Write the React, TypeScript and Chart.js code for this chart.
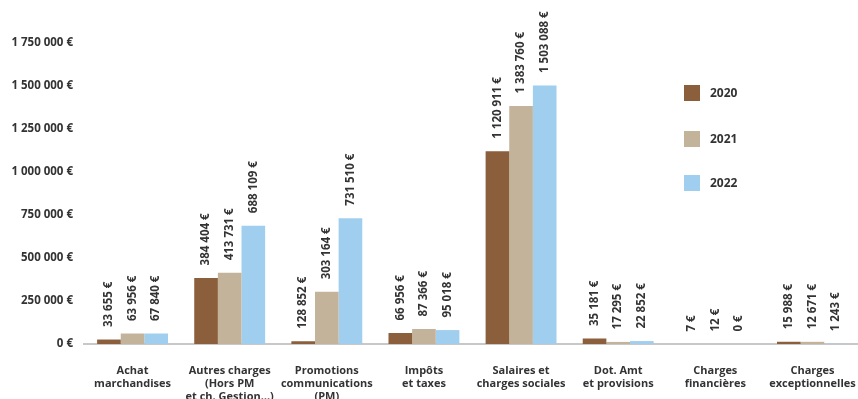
import React, { useEffect, useRef } from "react";
import { Chart, registerables } from "chart.js";

Chart.register(...registerables);

const categories: string[][] = [
  ["Achat", "marchandises"],
  ["Autres charges", "(Hors PM", "et ch. Gestion…)"],
  ["Promotions", "communications", "(PM)"],
  ["Impôts", "et taxes"],
  ["Salaires et", "charges sociales"],
  ["Dot. Amt", "et provisions"],
  ["Charges", "financières"],
  ["Charges", "exceptionnelles"],
];

const seriesNames = ["2020", "2021", "2022"];
const seriesColors = ["#8B5E3C", "#C4B39B", "#A0CEEE"];

// bar heights as drawn in the picture
const values2020 = [26000, 384404, 16000, 64000, 1120911, 32000, 7, 13000];
const values2021 = [61000, 413731, 303164, 87366, 1383760, 12000, 12, 12671];
const values2022 = [61000, 688109, 731510, 81000, 1503088, 17000, 0, 1243];

// data label texts as printed
const labels2020 = ["33 655 €", "384 404 €", "128 852 €", "66 956 €", "1 120 911 €", "35 181 €", "7 €", "15 988 €"];
const labels2021 = ["63 956 €", "413 731 €", "303 164 €", "87 366 €", "1 383 760 €", "17 295 €", "12 €", "12 671 €"];
const labels2022 = ["67 840 €", "688 109 €", "731 510 €", "95 018 €", "1 503 088 €", "22 852 €", "0 €", "1 243 €"];

const yTickValues = [0, 250000, 500000, 750000, 1000000, 1250000, 1500000, 1750000];

const FONT = "'Open Sans', 'DejaVu Sans', sans-serif";
const TEXT = "#333333";

const formatEuro = (v: number) =>
  String(Math.round(v)).replace(/\B(?=(\d{3})+(?!\d))/g, " ") + " €";

const valueLabelPlugin = {
  id: "valueLabels",
  afterDatasetsDraw(chart: any) {
    const ctx = chart.ctx;
    const allLabels = [labels2020, labels2021, labels2022];
    ctx.save();
    ctx.font = `bold 11.5px ${FONT}`;
    ctx.fillStyle = TEXT;
    ctx.textAlign = "left";
    ctx.textBaseline = "middle";
    chart.data.datasets.forEach((_ds: any, di: number) => {
      const meta = chart.getDatasetMeta(di);
      meta.data.forEach((bar: any, i: number) => {
        const txt = allLabels[di][i];
        ctx.save();
        ctx.translate(bar.x, bar.y - 12.5);
        ctx.rotate(-Math.PI / 2);
        ctx.fillText(txt, 0, 0);
        ctx.restore();
      });
    });
    ctx.restore();
  },
};

const legendPlugin = {
  id: "customLegend",
  afterDraw(chart: any) {
    const ctx = chart.ctx;
    const rows = [93, 139, 183];
    ctx.save();
    ctx.font = `bold 12px ${FONT}`;
    ctx.textAlign = "left";
    ctx.textBaseline = "middle";
    chart.data.datasets.forEach((ds: any, i: number) => {
      const cy = rows[i];
      ctx.fillStyle = ds.backgroundColor;
      ctx.fillRect(684, cy - 8, 16, 16);
      ctx.fillStyle = TEXT;
      ctx.fillText(ds.label, 710, cy + 1);
    });
    ctx.restore();
  },
};

export default function App() {
  const ref = useRef<HTMLCanvasElement | null>(null);

  useEffect(() => {
    if (!ref.current) return;
    const chart = new Chart(ref.current, {
      type: "bar",
      data: {
        labels: categories,
        datasets: [
          { label: seriesNames[0], data: values2020, backgroundColor: seriesColors[0] },
          { label: seriesNames[1], data: values2021, backgroundColor: seriesColors[1] },
          { label: seriesNames[2], data: values2022, backgroundColor: seriesColors[2] },
        ],
      },
      options: {
        responsive: false,
        animation: false,
        devicePixelRatio: 1,
        layout: { padding: { top: 43, right: 0, left: 0, bottom: 0 } },
        datasets: {
          bar: { categoryPercentage: 0.73, barPercentage: 1, borderWidth: 0 },
        },
        plugins: {
          legend: { display: false },
          tooltip: { enabled: false },
          title: { display: false },
        },
        scales: {
          x: {
            grid: { display: false, drawTicks: false },
            border: { display: true, color: "#C8C8C8", width: 2 },
            ticks: {
              color: TEXT,
              font: { family: FONT, size: 11, weight: "bold", lineHeight: 1.18 },
              padding: 20,
              maxRotation: 0,
              minRotation: 0,
              autoSkip: false,
            },
            afterFit(scale: any) {
              scale.height = 55;
              scale.paddingLeft = 0;
              scale.paddingRight = 0;
            },
          },
          y: {
            min: 0,
            max: 1750000,
            grid: { display: false, drawTicks: false },
            border: { display: false },
            afterBuildTicks(scale: any) {
              scale.ticks = yTickValues.map((v) => ({ value: v }));
            },
            ticks: {
              color: TEXT,
              font: { family: FONT, size: 11.5, weight: "bold" },
              padding: 11,
              callback: (v: any) => formatEuro(Number(v)),
            },
            afterFit(scale: any) {
              scale.width = 84;
              scale.paddingTop = 0;
              scale.paddingBottom = 0;
            },
          },
        },
      },
      plugins: [valueLabelPlugin, legendPlugin],
    });
    return () => chart.destroy();
  }, []);

  return (
    <div
      style={{
        position: "absolute",
        left: 0,
        top: 0,
        width: 858,
        height: 399,
        overflow: "hidden",
        background: "#ffffff",
      }}
    >
      <canvas ref={ref} width={861} height={399} style={{ display: "block" }} />
    </div>
  );
}
